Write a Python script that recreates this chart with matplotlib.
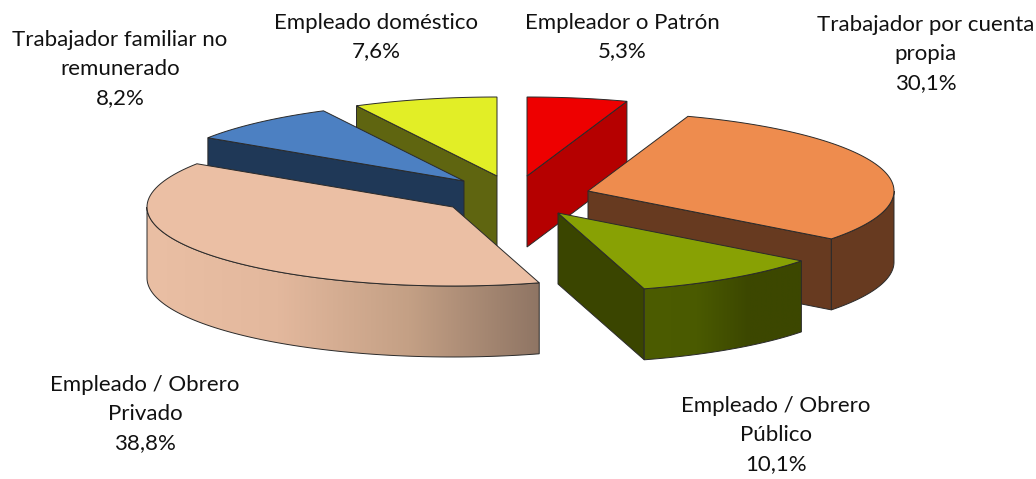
#plot.py
# Exploded 3D-style pie drawn with patches: one elliptical top plus side faces per slice

import numpy as np
import matplotlib
matplotlib.use("Agg")
import matplotlib.pyplot as plt
from matplotlib.colors import LinearSegmentedColormap
from matplotlib.patches import Polygon

# Data
categories = ["Empleador o Patrón", "Trabajador por cuenta\npropia",
              "Empleado / Obrero\nPúblico", "Empleado / Obrero\nPrivado",
              "Trabajador familiar no\nremunerado", "Empleado doméstico"]
values = [5.3, 30.1, 10.1, 38.8, 8.2, 7.6]

# Style of each slice
top_colors = ["#EE0000", "#EE8C4E", "#88A104", "#EBBFA4", "#4C80C2", "#E2EE26"]
side_colors = ["#B50000", "#673A20", "#3A4500", "#EABFA4", "#1F3857", "#5F6510"]
rim_gradients = {2: ["#4C5C00", "#4A5A00", "#3C4700", "#3C4800"],
                 3: ["#EABFA4", "#E3B89D", "#C4A085", "#8F7564"]}

# Layout, in pixels
apex = [(527, 176), (588, 191), (558, 213), (453, 207), (464, 181), (497, 176)]
label_xy = [(622, 37), (926, 54), (776, 435), (145, 414), (120, 69), (376, 37)]
rx, ry, depth = 306, 79, 71
draw_order = [5, 0, 4, 1, 3, 2]
edge = "#2A2A2A"

fig = plt.figure(figsize=(10.36, 4.79), dpi=100)
ax = fig.add_axes([0, 0, 1, 1])

total = sum(values)
bounds = np.concatenate([[0], np.cumsum(values)]) * 2 * np.pi / total


def rim_points(i, t0, t1):
    """Points of the pie edge, angle measured clockwise from the top."""
    t = np.linspace(t0, t1, 80)
    return np.column_stack([apex[i][0] + rx * np.sin(t), apex[i][1] - ry * np.cos(t)])


def draw_face(points, color, z):
    face = Polygon(points, closed=True, facecolor=color, edgecolor=edge, lw=0.7, zorder=z)
    ax.add_patch(face)
    return face


for z, i in enumerate(draw_order):
    t0, t1 = bounds[i], bounds[i + 1]
    z = z * 10
    p0 = np.array(apex[i])
    down = np.array([0, depth])

    # Flat side faces, only those turned to the viewer
    for t, normal in ((t0, t0 - np.pi / 2), (t1, t1 + np.pi / 2)):
        if np.cos(normal) < -1e-6:
            p1 = rim_points(i, t, t)[0]
            draw_face([p0, p1, p1 + down, p0 + down], side_colors[i], z + 1)

    # Outer wall, the part between 90 and 270 degrees
    a, b = max(t0, np.pi / 2), min(t1, 3 * np.pi / 2)
    if a < b:
        upper = rim_points(i, a, b)
        wall = np.vstack([upper, (upper + down)[::-1]])
        if i in rim_gradients:
            face = draw_face(wall, "none", z + 3)
            x0, x1 = wall[:, 0].min(), wall[:, 0].max()
            cmap = LinearSegmentedColormap.from_list("wall", rim_gradients[i])
            img = ax.imshow(np.linspace(0, 1, 256).reshape(1, -1), cmap=cmap, aspect="auto",
                            extent=(x0, x1, wall[:, 1].max(), wall[:, 1].min()), zorder=z + 2)
            img.set_clip_path(face)
        else:
            draw_face(wall, side_colors[i], z + 3)

    # Top of the slice
    draw_face(np.vstack([p0, rim_points(i, t0, t1)]), top_colors[i], z + 4)

# Labels
for cat, val, xy in zip(categories, values, label_xy):
    text = f"{cat}\n{val:.1f}%".replace(".", ",")
    ax.text(xy[0], xy[1], text, ha="center", va="center", fontsize=16, family="Lato",
            color="#111111", linespacing=1.56, zorder=100)

ax.set_xlim(0, 1036)
ax.set_ylim(479, 0)
ax.axis("off")
fig.savefig("out.png", dpi=100)
